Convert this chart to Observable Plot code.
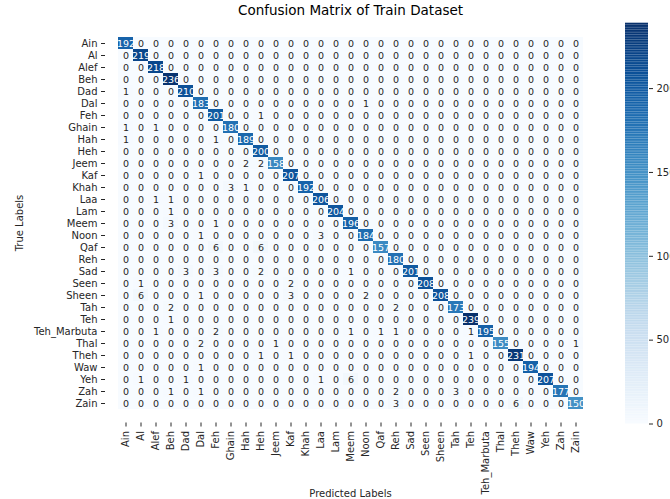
<!DOCTYPE html>
<html>
<head>
<meta charset="utf-8">
<script src="https://cdn.jsdelivr.net/npm/d3@7"></script>
<script src="https://cdn.jsdelivr.net/npm/@observablehq/plot@0.6"></script>
<style>
  html, body { margin: 0; padding: 0; background: white; overflow: hidden; }
  #wrap { position: relative; width: 670px; height: 499px; }
  #wrap > svg { position: absolute; top: 0; overflow: hidden; }
</style>
</head>
<body>
<div id="wrap"></div>
<script>
const title = "Confusion Matrix of Train Dataset";
const labels = ["Ain","Al","Alef","Beh","Dad","Dal","Feh","Ghain","Hah","Heh","Jeem","Kaf","Khah","Laa","Lam","Meem","Noon","Qaf","Reh","Sad","Seen","Sheen","Tah","Teh","Teh_Marbuta","Thal","Theh","Waw","Yeh","Zah","Zain"];
// rows = true labels, columns = predicted labels
const counts = [
  [192,0,0,0,0,0,0,0,0,0,0,0,0,0,0,0,0,0,0,0,0,0,0,0,0,0,0,0,0,0,0],
  [0,219,0,0,0,0,0,0,0,0,0,0,0,0,0,0,0,0,0,0,0,0,0,0,0,0,0,0,0,0,0],
  [0,0,218,0,0,0,0,0,0,0,0,0,0,0,0,0,0,0,0,0,0,0,0,0,0,0,0,0,0,0,0],
  [0,0,0,236,0,0,0,0,0,0,0,0,0,0,0,0,0,0,0,0,0,0,0,0,0,0,0,0,0,0,0],
  [1,0,0,0,210,0,0,0,0,0,0,0,0,0,0,0,0,0,0,0,0,0,0,0,0,0,0,0,0,0,0],
  [0,0,0,0,0,183,0,0,0,0,0,0,0,0,0,0,1,0,0,0,0,0,0,0,0,0,0,0,0,0,0],
  [0,0,0,0,0,0,201,0,0,1,0,0,0,0,0,0,0,0,0,0,0,0,0,0,0,0,0,0,0,0,0],
  [1,0,1,0,0,0,0,180,0,0,0,0,0,0,0,0,0,0,0,0,0,0,0,0,0,0,0,0,0,0,0],
  [1,0,0,0,0,0,1,0,189,0,0,0,0,0,0,0,0,0,0,0,0,0,0,0,0,0,0,0,0,0,0],
  [0,0,0,0,0,0,0,0,0,200,0,0,0,0,0,0,0,0,0,0,0,0,0,0,0,0,0,0,0,0,0],
  [0,0,0,0,0,0,0,0,2,2,158,0,0,0,0,0,0,0,0,0,0,0,0,0,0,0,0,0,0,0,0],
  [0,0,0,0,0,1,0,0,0,0,0,207,0,0,0,0,0,0,0,0,0,0,0,0,0,0,0,0,0,0,0],
  [0,0,0,0,0,0,0,3,1,0,0,0,192,0,0,0,0,0,0,0,0,0,0,0,0,0,0,0,0,0,0],
  [0,0,1,1,0,0,0,0,0,0,0,0,0,206,0,0,0,0,0,0,0,0,0,0,0,0,0,0,0,0,0],
  [0,0,0,1,0,0,0,0,0,0,0,0,0,0,204,0,0,0,0,0,0,0,0,0,0,0,0,0,0,0,0],
  [0,0,0,3,0,0,1,0,0,0,0,0,0,0,0,196,0,0,0,0,0,0,0,0,0,0,0,0,0,0,0],
  [0,0,0,0,0,1,0,0,0,0,0,0,0,3,0,0,184,0,0,0,0,0,0,0,0,0,0,0,0,0,0],
  [0,0,0,0,0,0,6,0,0,6,0,0,0,0,0,0,0,157,0,0,0,0,0,0,0,0,0,0,0,0,0],
  [0,0,0,0,0,0,0,0,0,0,0,0,0,0,0,0,0,0,180,0,0,0,0,0,0,0,0,0,0,0,0],
  [0,0,0,0,3,0,3,0,0,2,0,0,0,0,0,1,0,0,0,201,0,0,0,0,0,0,0,0,0,0,0],
  [0,1,0,0,0,0,0,0,0,0,0,2,0,0,0,0,0,0,0,0,208,0,0,0,0,0,0,0,0,0,0],
  [0,6,0,0,0,1,0,0,0,0,0,3,0,0,0,0,2,0,0,0,0,208,0,0,0,0,0,0,0,0,0],
  [0,0,0,2,0,0,0,0,0,0,0,0,0,0,0,0,0,0,2,0,0,0,173,0,0,0,0,0,0,0,0],
  [0,0,0,1,0,0,0,0,0,0,0,0,0,0,0,0,0,0,0,0,0,0,0,239,0,0,0,0,0,0,0],
  [0,0,1,0,0,0,2,0,0,0,0,0,0,0,0,1,0,1,1,0,0,0,0,1,195,0,0,0,0,0,0],
  [0,0,0,0,0,2,0,0,0,0,1,0,0,0,0,0,0,0,0,0,0,0,0,0,0,155,0,0,0,0,1],
  [0,0,0,0,0,0,0,0,0,1,0,1,0,0,0,0,0,0,0,0,0,0,0,1,0,0,231,0,0,0,0],
  [0,0,0,0,0,1,0,0,0,0,0,0,0,0,0,0,0,0,0,0,0,0,0,0,0,0,0,194,0,0,0],
  [0,1,0,0,1,0,0,0,0,0,0,0,0,1,0,6,0,0,0,0,0,0,0,0,0,0,0,0,207,0,0],
  [0,0,0,1,0,1,0,0,0,0,0,0,0,0,0,0,0,0,2,0,0,0,3,0,0,0,0,0,0,177,0],
  [0,0,0,0,0,0,0,0,0,0,0,0,0,0,0,0,0,0,3,0,0,0,0,0,0,0,6,0,0,0,150]
];
const colorbarTicks = [0, 50, 100, 150, 200];

const cells = [];
labels.forEach((t, i) => counts[i].forEach((v, j) => cells.push({t, p: labels[j], v})));
const vmax = d3.max(cells, d => d.v);
const colorOpts = {type: "linear", scheme: "blues", domain: [0, vmax]};
const font = "DejaVu Sans";

const main = Plot.plot({
  width: 670, height: 499,
  marginLeft: 105, marginRight: 75, marginTop: 22.5, marginBottom: 76.5,
  style: {fontFamily: font, fontSize: "10px", background: "transparent", color: "#262626"},
  x: {domain: labels, padding: 0},
  y: {domain: labels, padding: 0},
  color: colorOpts,
  marks: [
    Plot.cell(cells, {x: "p", y: "t", fill: "v"}),
    Plot.text(cells.filter(d => d.v <= 100), {x: "p", y: "t", text: d => String(d.v), fill: "#262626", fontSize: 9.5}),
    Plot.text(cells.filter(d => d.v > 100), {x: "p", y: "t", text: d => String(d.v), fill: "white", fontSize: 9.5}),
    Plot.axisX({tickRotate: -90, tickSize: 4, tickPadding: 4, label: "Predicted Labels", labelAnchor: "center", labelOffset: 74, fontSize: 10}),
    Plot.axisY({tickSize: 4, tickPadding: 4, label: "True Labels", labelAnchor: "center", labelOffset: 90, fontSize: 10}),
    Plot.text([title], {frameAnchor: "top", dy: -18, fontSize: 13.5, fill: "#000"})
  ]
});
main.style.left = "0px";

const ramp = d3.range(0, vmax);
const bar = Plot.plot({
  width: 45, height: 499,
  marginLeft: 0, marginRight: 22, marginTop: 22.7, marginBottom: 75.5,
  style: {fontFamily: font, fontSize: "10px", background: "transparent", color: "#262626"},
  y: {domain: [0, vmax]},
  color: colorOpts,
  marks: [
    Plot.rect(ramp, {y1: d => d, y2: d => d + 1, fill: d => d + 0.5}),
    Plot.axisY({anchor: "right", ticks: colorbarTicks, tickFormat: d => String(d), tickSize: 4, tickPadding: 4, label: null})
  ]
});
bar.style.left = "625px";

const wrap = document.getElementById("wrap");
wrap.appendChild(main);
wrap.appendChild(bar);
</script>
</body>
</html>
